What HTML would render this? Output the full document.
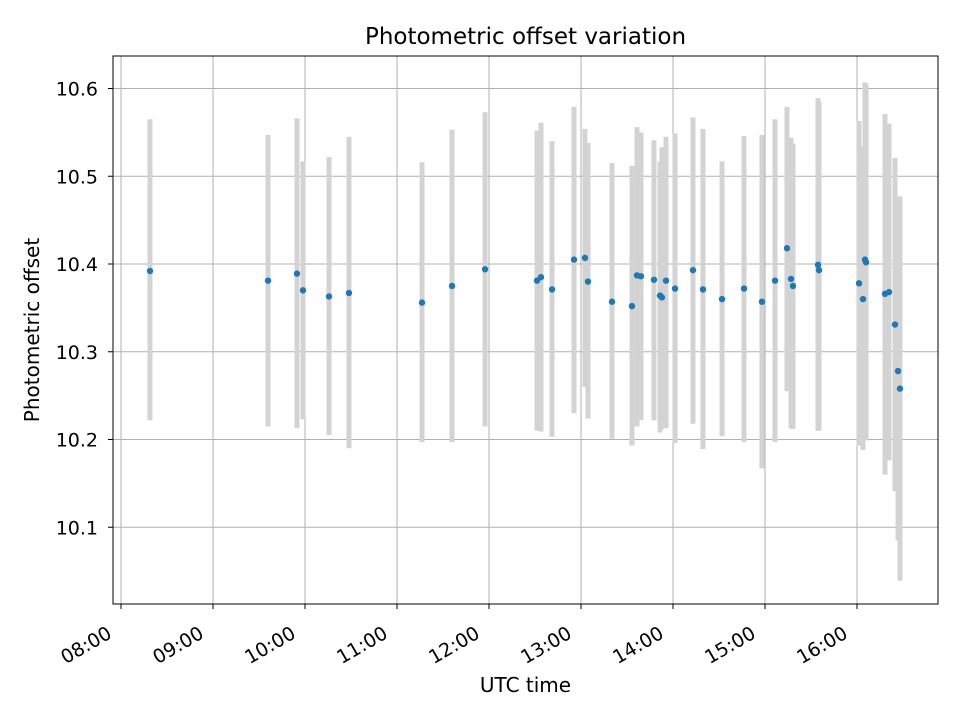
<!DOCTYPE html>
<html><head><meta charset="utf-8"><style>
body{margin:0;background:#fff;font-family:"Liberation Sans","DejaVu Sans",sans-serif}
</style></head><body>
<svg id="chart" width="960" height="720" xmlns="http://www.w3.org/2000/svg" font-family="DejaVu Sans, Liberation Sans, sans-serif"></svg>
<script>
const times=[8.315,9.598,9.913,9.978,10.261,10.478,11.272,11.598,11.957,12.522,12.565,12.685,12.924,13.043,13.076,13.337,13.554,13.609,13.652,13.793,13.859,13.880,13.924,14.022,14.217,14.326,14.533,14.772,14.967,15.109,15.239,15.283,15.304,15.576,15.587,16.022,16.065,16.087,16.098,16.304,16.348,16.413,16.446,16.467];
const values=[10.392,10.381,10.389,10.370,10.363,10.367,10.356,10.375,10.394,10.381,10.385,10.371,10.405,10.407,10.380,10.357,10.352,10.387,10.386,10.382,10.364,10.362,10.381,10.372,10.393,10.371,10.360,10.372,10.357,10.381,10.418,10.383,10.375,10.399,10.393,10.378,10.360,10.405,10.402,10.366,10.368,10.331,10.278,10.258];
const errTop=[10.565,10.547,10.566,10.517,10.522,10.545,10.516,10.553,10.573,10.552,10.561,10.540,10.579,10.554,10.538,10.515,10.512,10.556,10.550,10.541,10.517,10.533,10.545,10.549,10.567,10.554,10.517,10.546,10.547,10.565,10.579,10.544,10.537,10.589,10.585,10.563,10.534,10.607,10.605,10.571,10.560,10.521,10.477,10.477];
const errBot=[10.222,10.215,10.213,10.223,10.205,10.190,10.197,10.197,10.215,10.210,10.209,10.203,10.230,10.260,10.224,10.201,10.193,10.215,10.222,10.222,10.208,10.212,10.213,10.196,10.218,10.189,10.204,10.197,10.167,10.197,10.255,10.213,10.212,10.210,10.210,10.193,10.188,10.199,10.199,10.160,10.176,10.141,10.085,10.039];
const xTicks=[8,9,10,11,12,13,14,15,16];
const xTickLabels=["08:00","09:00","10:00","11:00","12:00","13:00","14:00","15:00","16:00"];
const yTicks=[10.1,10.2,10.3,10.4,10.5,10.6];
const yTickLabels=["10.1","10.2","10.3","10.4","10.5","10.6"];

const L=113,R=938,T=56,B=604;
const X=h=>121+(h-8)*92;
const Y=v=>264-(v-10.4)*877.5;
const svg=document.getElementById('chart');
const NS="http://www.w3.org/2000/svg";
function mk(tag,attrs,parent){const e=document.createElementNS(NS,tag);for(const k in attrs)e.setAttribute(k,attrs[k]);(parent||svg).appendChild(e);return e;}

const grid=mk('g',{});


xTicks.forEach((t,i)=>{
  const x=X(t);
  mk('line',{x1:x,x2:x,y1:T,y2:B,stroke:'#b0b0b0','stroke-width':1},grid);
  mk('line',{x1:x,x2:x,y1:B,y2:B+5,stroke:'#000','stroke-width':1});
  const ax=x-8, ay=B+33;
  const tx=mk('text',{x:ax,y:ay,'font-size':19,'text-anchor':'end',transform:`rotate(-30 ${ax} ${ay})`});
  tx.textContent=xTickLabels[i];
  
  
});
yTicks.forEach((t,i)=>{
  const y=Y(t);
  mk('line',{x1:L,x2:R,y1:y,y2:y,stroke:'#b0b0b0','stroke-width':1},grid);
  mk('line',{x1:L-5,x2:L,y1:y,y2:y,stroke:'#000','stroke-width':1});
  const tx=mk('text',{x:L-15,y:y+7,'font-size':19,'text-anchor':'end'});
  tx.textContent=yTickLabels[i];
  
  
});
const eg=mk('g',{});


times.forEach((t,i)=>{
  const b=mk('line',{x1:X(t),x2:X(t),y1:Y(errTop[i]),y2:Y(errBot[i]),stroke:'#d3d3d3','stroke-width':5},eg);
  
  
});
const pg=mk('g',{});


times.forEach((t,i)=>{
  const c=mk('circle',{cx:X(t),cy:Y(values[i]),r:3.2,fill:'#1f77b4'},pg);
  
  
});
const fr=mk('rect',{x:L,y:T,width:R-L,height:B-T,fill:'none',stroke:'#000','stroke-width':1});


const ti=mk('text',{x:(L+R)/2,y:44,'font-size':23,'text-anchor':'middle'});
ti.textContent='Photometric offset variation';


const xl=mk('text',{x:(L+R)/2,y:692,'font-size':20,'text-anchor':'middle'});
xl.textContent='UTC time';


const yl=mk('text',{x:39,y:330,'font-size':20,'text-anchor':'middle',transform:'rotate(-90 39 330)'});
yl.textContent='Photometric offset';


</script>
</body></html>
